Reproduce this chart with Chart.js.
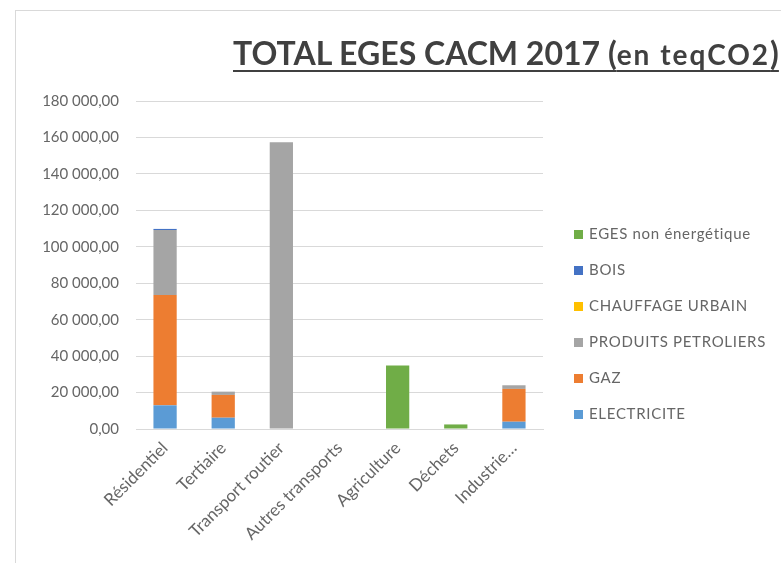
<!DOCTYPE html>
<html>
<head>
<meta charset="utf-8">
<script src="https://cdn.jsdelivr.net/npm/chart.js@4.4.1/dist/chart.umd.min.js"></script>
<style>
  html, body { margin: 0; padding: 0; width: 781px; height: 563px; overflow: hidden; background: #fff; }
  #frame { position: absolute; left: 15px; top: 10px; width: 900px; height: 700px; border-left: 1px solid #d9d9d9; border-top: 1px solid #d9d9d9; }
  #wrap { position: absolute; left: 0; top: 0; width: 781px; height: 563px; }
  #title { position: absolute; left: 233px; top: 33px; white-space: nowrap; color: #404040; font-family: Lato, "Open Sans", sans-serif; font-weight: bold; text-decoration: underline; text-decoration-thickness: 2px; text-underline-offset: 5px; }
  #title .big { font-size: 32px; }
  #title .small { font-size: 28px; letter-spacing: 2px; }
  #legend { position: absolute; left: 574px; top: 0; font-family: Lato, "Open Sans", sans-serif; font-size: 15px; letter-spacing: 0.7px; color: #666; }
  .item { position: absolute; left: 0; white-space: nowrap; height: 20px; line-height: 20px; }
  .sw { display: inline-block; width: 9px; height: 9px; margin-right: 6px; vertical-align: 0px; }
</style>
</head>
<body>
<div id="frame"></div>
<div id="wrap"><canvas id="c" width="781" height="563"></canvas></div>
<div id="title"><span class="big">TOTAL EGES CACM 2017 (</span><span class="small">en teqCO2</span><span class="big">)</span></div>
<div id="legend"></div>
<script>
const categories = ['Résidentiel', 'Tertiaire', 'Transport routier', 'Autres transports', 'Agriculture', 'Déchets', 'Industrie…'];
const electricite = [13000, 6200, 0, 0, 0, 0, 4000];
const gaz = [60500, 12500, 0, 0, 0, 0, 18000];
const produitsPetroliers = [35700, 1800, 157400, 0, 0, 0, 2000];
const chauffageUrbain = [0, 0, 0, 0, 0, 0, 0];
const bois = [600, 0, 0, 0, 0, 0, 0];
const egesNonEnergetique = [0, 0, 0, 0, 34900, 2500, 0];
const yTicks = [0, 20000, 40000, 60000, 80000, 100000, 120000, 140000, 160000, 180000];

const seriesNames = ['ELECTRICITE', 'GAZ', 'PRODUITS PETROLIERS', 'CHAUFFAGE URBAIN', 'BOIS', 'EGES non énergétique'];
const seriesColors = ['#5B9BD5', '#ED7D31', '#A5A5A5', '#FFC000', '#4472C4', '#70AD47'];
const seriesData = [electricite, gaz, produitsPetroliers, chauffageUrbain, bois, egesNonEnergetique];

function fmt(v) {
  const s = Math.round(v).toString().replace(/\B(?=(\d{3})+(?!\d))/g, ' ');
  return s + ',00';
}

const datasets = seriesNames.map((n, i) => ({
  label: n,
  data: seriesData[i],
  backgroundColor: seriesColors[i],
  borderWidth: 0,
  barPercentage: 0.4,
  categoryPercentage: 1.0
}));

const canvas = document.getElementById('c');
const ctx = canvas.getContext('2d');
ctx.letterSpacing = '1px';

const font = { family: 'Lato, "Open Sans", sans-serif', size: 15 };
const xfont = { family: 'Lato, "Open Sans", sans-serif', size: 17 };

new Chart(ctx, {
  type: 'bar',
  data: { labels: categories, datasets },
  options: {
    responsive: false,
    animation: false,
    layout: { padding: { top: 101, right: 238, bottom: 0, left: 0 } },
    plugins: { legend: { display: false }, title: { display: false }, tooltip: { enabled: false } },
    scales: {
      x: {
        stacked: true,
        grid: { display: false, drawTicks: false },
        border: { display: true, color: '#d9d9d9' },
        ticks: { color: '#666', font: xfont, maxRotation: 45, minRotation: 45, autoSkip: false, padding: 9 },
        afterFit: (s) => { s.height = 134; }
      },
      y: {
        stacked: true,
        min: 0, max: 180000,
        afterBuildTicks: (s) => { s.ticks = yTicks.map(v => ({ value: v })); },
        grid: { color: '#d9d9d9', drawTicks: false },
        border: { display: false },
        ticks: { color: '#666', font, padding: 17, callback: (v) => fmt(v) },
        afterFit: (s) => { s.width = 136; }
      }
    }
  }
});

const legend = document.getElementById('legend');
const tops = [233, 269, 305, 341, 377, 413];
for (let k = 0; k < seriesNames.length; k++) {
  const i = seriesNames.length - 1 - k;
  const d = document.createElement('div');
  d.className = 'item';
  d.style.top = (tops[k] - 10) + 'px';
  d.innerHTML = '<span class="sw" style="background:' + seriesColors[i] + '"></span>' + seriesNames[i];
  legend.appendChild(d);
}
</script>
</body>
</html>
